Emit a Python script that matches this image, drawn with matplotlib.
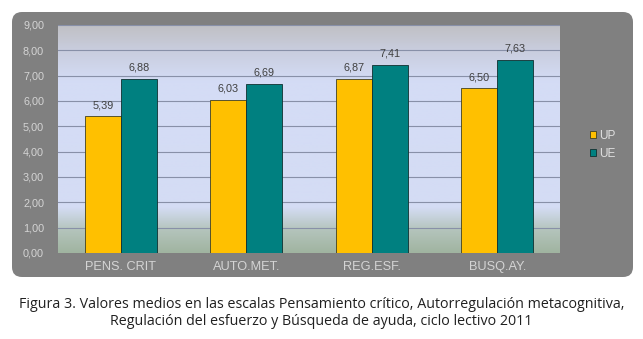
import matplotlib
matplotlib.use('Agg')
import matplotlib.pyplot as plt
import numpy as np
from matplotlib.patches import FancyBboxPatch
from matplotlib.colors import LinearSegmentedColormap

categorias = ['PENS. CRIT', 'AUTO.MET.', 'REG.ESF.', 'BUSQ.AY.']
up = [5.39, 6.03, 6.87, 6.50]
ue = [6.88, 6.69, 7.41, 7.63]
series = ['UP', 'UE']
yticks = [0, 1, 2, 3, 4, 5, 6, 7, 8, 9]

color_up = '#ffc000'
color_ue = '#008080'
panel = '#808080'

W, H = 643, 339
fig = plt.figure(figsize=(W / 100, H / 100), dpi=100)
fig.patch.set_facecolor('white')

# panel gris redondeado
bg = fig.add_axes([0, 0, 1, 1])
bg.set_xlim(0, W)
bg.set_ylim(H, 0)
bg.axis('off')
bg.add_patch(FancyBboxPatch((12 + 10, 12 + 10), 621 - 20, 265 - 20,
                            boxstyle='round,pad=10', facecolor=panel,
                            edgecolor='none'))

# area del grafico
x0, x1, y0, y1 = 58, 560, 25, 253
ax = fig.add_axes([x0 / W, 1 - y1 / H, (x1 - x0) / W, (y1 - y0) / H])
ax.set_xlim(-0.5, len(categorias) - 0.5)
ax.set_ylim(0, 9)

# fondo degradado
cmap = LinearSegmentedColormap.from_list('fondo', [
    (0.0, '#a0b4a0'), (0.1, '#b4c4bc'), (0.2, '#d4dcf4'),
    (0.75, '#d4dcf6'), (0.9, '#c8ccdc'), (1.0, '#c0c0c4')])
grad = np.linspace(0, 1, 256).reshape(-1, 1)
ax.imshow(grad, aspect='auto', cmap=cmap, origin='lower',
          extent=[-0.5, len(categorias) - 0.5, 0, 9], zorder=0)

for t in yticks[1:]:
    ax.axhline(t, color='#8890a8', linewidth=0.8, zorder=1)

x = np.arange(len(categorias))
w = 0.287
b1 = ax.bar(x - w / 2, up, w, color=color_up, edgecolor='#404020',
            linewidth=0.6, label=series[0], zorder=2)
b2 = ax.bar(x + w / 2, ue, w, color=color_ue, edgecolor='#103030',
            linewidth=0.6, label=series[1], zorder=2)

for bars, vals in ((b1, up), (b2, ue)):
    for r, v in zip(bars, vals):
        ax.text(r.get_x() + r.get_width() / 2, v + 0.25,
                f'{v:.2f}'.replace('.', ','), ha='center', va='bottom',
                fontsize=7.8, family='Liberation Sans', color='#404040',
                zorder=3)

ax.set_yticks(yticks)
ax.set_yticklabels([f'{t:.2f}'.replace('.', ',') for t in yticks],
                   family='Liberation Sans')
ax.set_xticks(x)
ax.set_xticklabels(categorias, family='Liberation Sans', fontsize=9.2)
ax.tick_params(axis='y', length=0, labelsize=7.8, colors='#d4d4d4', pad=10)
ax.tick_params(axis='x', length=0, colors='#d4d4d4', pad=6)
for s in ax.spines.values():
    s.set_visible(False)

# leyenda
leg = fig.legend(handles=[b1, b2], labels=series, loc='center left',
                 bbox_to_anchor=(584 / W, 1 - 145 / H), frameon=False,
                 prop={'family': 'Liberation Sans', 'size': 8.5},
                 handlelength=0.55, handleheight=0.55,
                 handletextpad=0.2, labelspacing=0.5, borderpad=0)
for t in leg.get_texts():
    t.set_color('#e0e0e0')

caption = ('Figura 3. Valores medios en las escalas Pensamiento crítico, '
           'Autorregulación metacognitiva,\nRegulación del esfuerzo y '
           'Búsqueda de ayuda, ciclo lectivo 2011')
fig.text(0.5, 1 - 313 / H, caption, ha='center', va='center',
         fontsize=10.3, family='Open Sans', color='#202020', linespacing=1.25)

fig.savefig('out.png', dpi=100, facecolor='white')
